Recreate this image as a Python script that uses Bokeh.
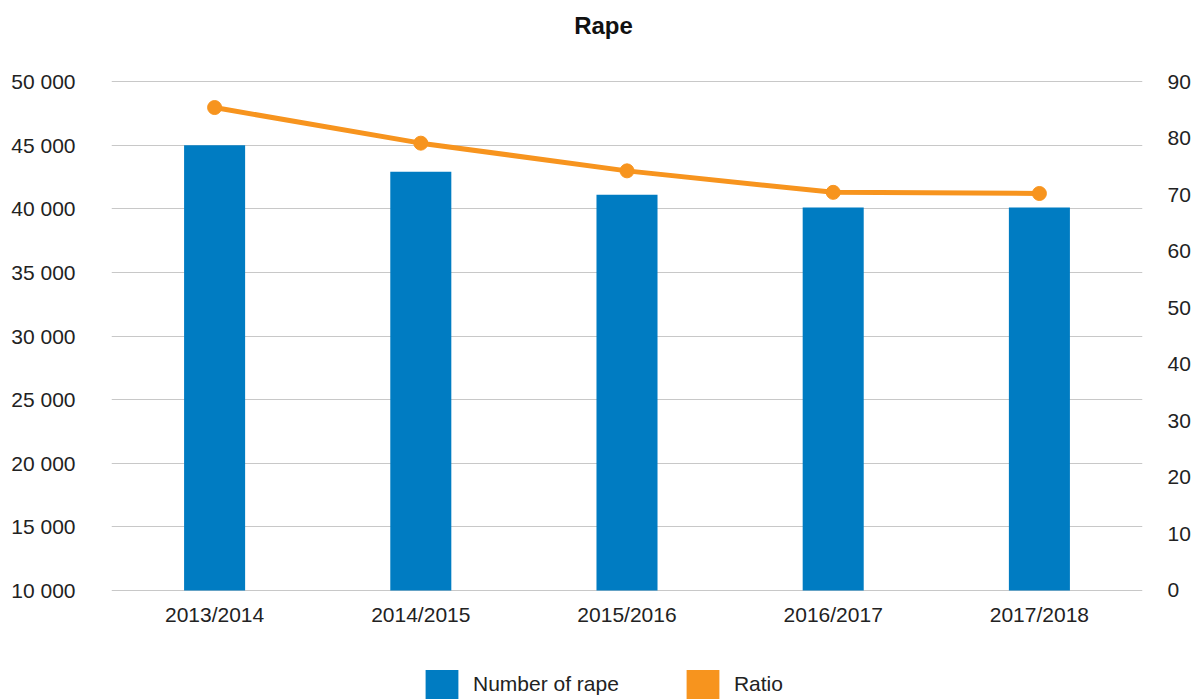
from bokeh.plotting import figure
from bokeh.layouts import column
from bokeh.models import (Range1d, LinearAxis, FixedTicker, Legend, LegendItem,
                          ColumnDataSource, FactorRange, Label)
from bokeh.embed import file_html
from bokeh.resources import INLINE

# ---- data ----
periods = ["2013/2014", "2014/2015", "2015/2016", "2016/2017", "2017/2018"]
number_of_rape = [45000, 42900, 41100, 40100, 40100]
ratio = [85.4, 79.1, 74.2, 70.4, 70.2]
left_ticks = [10000, 15000, 20000, 25000, 30000, 35000, 40000, 45000, 50000]
left_tick_labels = ["10 000", "15 000", "20 000", "25 000", "30 000",
                    "35 000", "40 000", "45 000", "50 000"]
right_ticks = [0, 10, 20, 30, 40, 50, 60, 70, 80, 90]
title_text = "Rape"
legend_labels = ["Number of rape", "Ratio"]

BLUE = "#007CC2"
ORANGE = "#F7941E"
GRID = "#C8C8C8"
TXT = "#222222"
FONT = "Liberation Sans"
W = 1193

# ---- title strip ----
t = figure(width=W, height=60, output_backend="svg", toolbar_location=None,
           min_border=0, x_axis_type=None, y_axis_type=None)
t.outline_line_color = None
t.add_layout(Label(x=492, y=35, x_units="screen", y_units="screen",
                   text=title_text, text_align="center", text_baseline="middle",
                   text_font=FONT, text_font_style="bold",
                   text_font_size="24px", text_color="#111111"))

# ---- main chart ----
src = ColumnDataSource(dict(period=periods, n=number_of_rape, r=ratio))
pad = 80  # about one pixel, so that grid lines at 10 000 and 50 000 are drawn
p = figure(width=W, height=590, output_backend="svg", toolbar_location=None,
           x_range=FactorRange(*periods),
           y_range=Range1d(left_ticks[0] - pad, left_ticks[-1] + pad),
           min_border_left=111, min_border_right=51, min_border_top=20,
           min_border_bottom=59)
rpad = pad * (right_ticks[-1] - right_ticks[0]) / (left_ticks[-1] - left_ticks[0])
p.extra_y_ranges = {"ratio": Range1d(right_ticks[0] - rpad, right_ticks[-1] + rpad)}
p.outline_line_color = None

bars = p.vbar(x="period", top="n", bottom=left_ticks[0], width=0.296, source=src,
              color=BLUE, line_color=None)
p.line(x="period", y="r", source=src, y_range_name="ratio",
       color=ORANGE, line_width=5)
p.scatter(x="period", y="r", source=src, y_range_name="ratio",
          color=ORANGE, size=14)

ya = p.yaxis[0]
ya.ticker = FixedTicker(ticks=left_ticks)
ya.major_label_overrides = {t_: l for t_, l in zip(left_ticks, left_tick_labels)}
ra = LinearAxis(y_range_name="ratio", ticker=FixedTicker(ticks=right_ticks))
p.add_layout(ra, "right")

for ax in [p.xaxis[0], ya, ra]:
    ax.axis_line_color = None
    ax.major_tick_line_color = None
    ax.minor_tick_line_color = None
    ax.major_tick_out = 0
    ax.major_tick_in = 0
    ax.minor_tick_out = 0
    ax.major_label_text_font = FONT
    ax.major_label_text_font_size = "21px"
    ax.major_label_text_color = TXT
ya.major_label_standoff = 36
ra.major_label_standoff = 25
p.xaxis[0].major_label_standoff = 11

p.xgrid.grid_line_color = None
p.ygrid.grid_line_color = GRID
p.ygrid.grid_line_width = 1
p.ygrid.ticker = FixedTicker(ticks=left_ticks)

# ---- legend strip ----
q = figure(width=W, height=49, output_backend="svg", toolbar_location=None,
           min_border=0, x_axis_type=None, y_axis_type=None,
           x_range=FactorRange(*periods), y_range=Range1d(0, 1))
q.outline_line_color = None
lb = q.vbar(x="period", top="n", width=0.3, source=src, color=BLUE,
            line_color=None, visible=False)
lo = q.vbar(x="period", top="r", width=0.3, source=src, color=ORANGE,
            line_color=None, visible=False)
legend = Legend(items=[LegendItem(label=legend_labels[0], renderers=[lb]),
                       LegendItem(label=legend_labels[1], renderers=[lo])],
                orientation="horizontal", location=(310, -3),
                glyph_width=41, glyph_height=36, label_standoff=11, spacing=63,
                padding=0, margin=0, border_line_color=None,
                background_fill_alpha=0, inactive_fill_alpha=0,
                label_text_font=FONT, label_text_font_size="21px",
                label_text_color=TXT)
q.add_layout(legend, "center")

layout = column(t, p, q, spacing=0)
open("out.html", "w").write(file_html(layout, INLINE))
